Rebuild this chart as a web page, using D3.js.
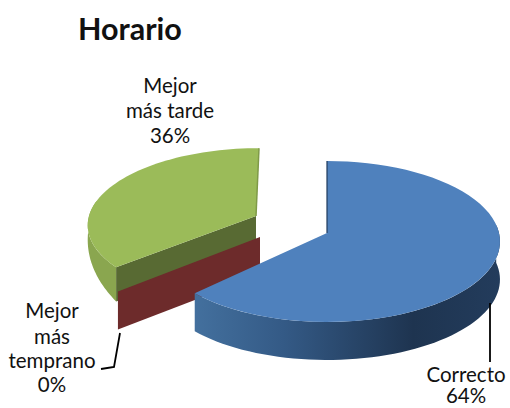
<!DOCTYPE html>
<html>
<head>
<meta charset="utf-8">
<script src="https://cdn.jsdelivr.net/npm/d3@7"></script>
<style>
  html, body { margin: 0; padding: 0; background: #fff; overflow: hidden; }
  text { font-family: Lato, sans-serif; fill: #111; }
</style>
</head>
<body>
<div class="chart"></div>
<script>
// Chart data
const categories = ["Correcto", "Mejor más temprano", "Mejor más tarde"];
const values = [64, 0, 36];
const percentLabels = ["64%", "0%", "36%"];

// Chart dimensions
const width = 510;
const height = 408;
const tilt = 0.1056;     // perspective: front of the pie looks bigger than the back
const depth = 38;

// Where each exploded slice sits, same order as categories
const apexX = [327, 260, 256];
const apexY = [233, 237, 216];
const radiusX = [172, 172, 167];
const radiusY = [79.6, 79.6, 75];
const shear = [0, 0, 3];
const blueEndTurn = -5;  // degrees, the 3d view rotates the blue cut edge a bit

const svg = d3.select(".chart")
    .append("svg")
    .attr("width", width)
    .attr("height", height);

const defs = svg.append("defs");

// Side of the blue slice goes darker towards the right
const xGrad = d3.scaleLinear().domain([0, 1]).range([190, 500]);
const blueSide = defs.append("linearGradient")
    .attr("id", "blueSide")
    .attr("gradientUnits", "userSpaceOnUse")
    .attr("x1", xGrad(0)).attr("x2", xGrad(1))
    .attr("y1", 0).attr("y2", 0);
blueSide.selectAll("stop")
    .data([[0, "#44719f"], [0.3, "#345a86"], [0.72, "#1e3450"], [1, "#233c5c"]])
    .enter()
    .append("stop")
    .attr("offset", d => d[0])
    .attr("stop-color", d => d[1]);

const pie = d3.pie().sort(null).value(d => d)(values);
const toRad = Math.PI / 180;

// Turn a pie angle into a point of slice i, r = 0 gives the apex
function project(i, angle, r, drop) {
    const X = Math.sin(angle) * r;
    const Y = Math.cos(angle) * r;
    const s = 1 / (1 + tilt * Y);
    return [
        apexX[i] + radiusX[i] * X * s + shear[i] * Y,
        apexY[i] - radiusY[i] * Y * s + (drop || 0)
    ];
}

function arcPoints(i, from, to, drop) {
    const steps = 60;
    return d3.range(steps + 1).map(k => {
        const t = k / steps;
        const d = typeof drop === "function" ? drop(t) : drop;
        return project(i, from + (to - from) * t, 1, d);
    });
}

const line = d3.line();

function drawPoly(points, fill) {
    return svg.append("path")
        .attr("d", line(points) + "Z")
        .attr("fill", fill);
}

// Green slice
const gFrom = pie[2].startAngle;
const gTo = pie[2].endAngle;
const gDepth = depth * 0.9;
// outer wall, only the front-left bit of the rim shows and it narrows going up
const gVisibleEnd = 282 * toRad;
const gDrop = d3.scaleLinear().domain([0, 1]).range([gDepth, 3]);
drawPoly(arcPoints(2, gFrom, gVisibleEnd, 0)
    .concat(arcPoints(2, gFrom, gVisibleEnd, gDrop).reverse()), "#8aa64f");
// cut wall
drawPoly([project(2, gFrom, 0), project(2, gFrom, 1), project(2, gFrom, 1, gDepth), project(2, gFrom, 0, gDepth)], "#586a33");
// top
drawPoly([project(2, gFrom, 0)].concat(arcPoints(2, gFrom, gTo, 0)), "#9bbb59");
// thin back wall on the right
svg.append("path")
    .attr("d", line([project(2, gTo, 1), project(2, gTo, 0)]))
    .attr("fill", "none")
    .attr("stroke", "#7f9a48")
    .attr("stroke-width", 1.5);

// Red slice has 0%, only the cut wall is visible
const rFrom = pie[1].startAngle;
drawPoly([project(1, rFrom, 0), project(1, rFrom, 1), project(1, rFrom, 1, depth), project(1, rFrom, 0, depth)], "#6d2b2b");

// Blue slice
const bFrom = pie[0].startAngle;
const bTo = pie[0].endAngle + blueEndTurn * toRad;
drawPoly(arcPoints(0, 84 * toRad, bTo, 0)
    .concat(arcPoints(0, 84 * toRad, bTo, depth).reverse()), "url(#blueSide)");
drawPoly([project(0, bFrom, 0)].concat(arcPoints(0, bFrom, bTo, 0)), "#4f81bd");
svg.append("path")
    .attr("d", line([project(0, bFrom, 1), project(0, bFrom, 0)]))
    .attr("fill", "none")
    .attr("stroke", "#1f3a5c")
    .attr("stroke-width", 1.2);

// Leader lines
const leaderLines = [
    [[490, 303], [490, 362]],
    [[120, 333], [114, 367], [101, 369]]
];
svg.selectAll(".leader")
    .data(leaderLines)
    .enter()
    .append("path")
    .attr("class", "leader")
    .attr("d", d => line(d))
    .attr("fill", "none")
    .attr("stroke", "#000")
    .attr("stroke-width", 1.8);

// Title
svg.append("text")
    .attr("x", 78)
    .attr("y", 40)
    .attr("font-size", 30.5)
    .attr("font-weight", "bold")
    .text("Horario");

// Data labels, split the way the original wraps them
const labelLines = [
    [categories[0], percentLabels[0]],
    ["Mejor", "más", "temprano", percentLabels[1]],
    ["Mejor", "más tarde", percentLabels[2]]
];
const labelX = [466, 52, 170];
const labelY = [[382, 403], [318, 344, 368, 392], [93, 118, 143]];
const labelSize = [20.5, 20.5, 20.5];

labelLines.forEach((lines, i) => {
    svg.selectAll(".label" + i)
        .data(lines)
        .enter()
        .append("text")
        .attr("class", "label" + i)
        .attr("x", labelX[i])
        .attr("y", (d, k) => labelY[i][k])
        .attr("text-anchor", "middle")
        .attr("font-size", labelSize[i])
        .text(d => d);
});
</script>
</body>
</html>
